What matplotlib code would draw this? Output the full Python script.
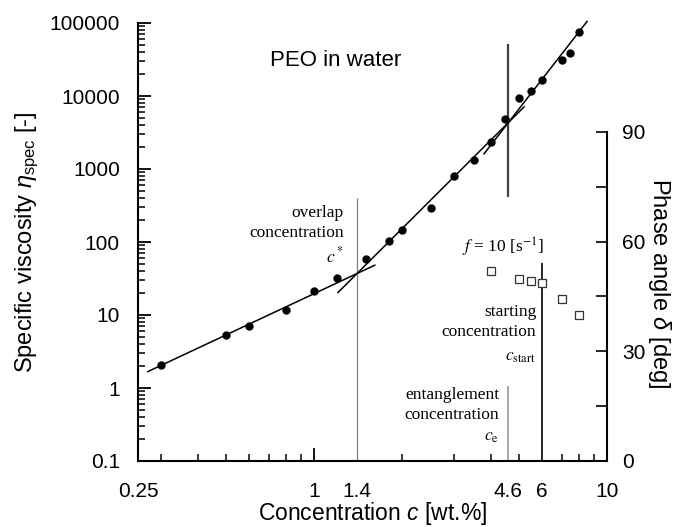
import numpy as np
import matplotlib
matplotlib.use('Agg')
import matplotlib.pyplot as plt
from matplotlib.ticker import FixedLocator, FixedFormatter, NullFormatter

plt.rcParams['font.family'] = ['Liberation Sans', 'DejaVu Sans']
plt.rcParams['mathtext.fontset'] = 'custom'
plt.rcParams['mathtext.rm'] = 'Liberation Sans'
plt.rcParams['mathtext.it'] = 'Liberation Sans:italic'
plt.rcParams['mathtext.bf'] = 'Liberation Sans:bold'

# specific viscosity (filled circles)
conc = [0.3, 0.5, 0.6, 0.8, 1.0, 1.2, 1.5, 1.8, 2.0, 2.5, 3.0, 3.5, 4.0, 4.5,
        5.0, 5.5, 6.0, 7.0, 7.5, 8.0]
eta_spec = [2.07, 5.3, 7.1, 11.7, 21.3, 32, 58, 103, 146, 292, 800, 1330, 2340,
            4840, 9400, 11700, 16600, 31100, 38800, 75300]

# phase angle at f = 10 1/s (open squares)
conc_phase = [4.0, 5.0, 5.5, 6.0, 7.0, 8.0]
phase = [52.0, 49.8, 49.2, 48.7, 44.3, 39.9]

# power law fits: eta = eta_star * (c / c_star)^n
c_star, eta_star, c_e = 1.4, 37.0, 4.6
slopes = [1.88, 4.0, 5.15]
fit_ranges = [(0.27, 1.61), (1.205, 5.21), (3.80, 8.55)]

# marker lines (c, eta_low, eta_high, colour, width)
vert_lines = [(1.4, 0.1, 401, '#808080', 0.9),
              (4.6, 413, 51500, '#404040', 1.6),
              (4.6, 0.1, 1.06, '#909090', 1.1),
              (6.0, 0.1, 51.5, 'black', 1.2)]

xtick_vals = [0.25, 1, 1.4, 4.6, 6, 10]
xtick_labels = ['0.25', '1', '1.4', '4.6', '6', '10']
xminor_vals = [0.3, 0.4, 0.5, 0.6, 0.7, 0.8, 0.9, 2, 3, 4, 5, 7, 8, 9]
ytick_vals = [0.1, 1, 10, 100, 1000, 10000, 100000]
ytick_labels = ['0.1', '1', '10', '100', '1000', '10000', '100000']


def fit_curve(c, n, c0, eta0):
    return eta0 * (c / c0) ** n


fig = plt.figure(figsize=(6.8, 5.27), dpi=100)
ax = fig.add_axes([138 / 680, 1 - 461 / 527, 469 / 680, 438 / 527])
ax.set_xscale('log')
ax.set_yscale('log')
ax.set_xlim(0.25, 10)
ax.set_ylim(0.1, 100000)

# fit lines
eta_e = fit_curve(c_e, slopes[1], c_star, eta_star)
anchors = [(c_star, eta_star), (c_star, eta_star), (c_e, eta_e)]
for n, (c0, c1), (ca, ea) in zip(slopes, fit_ranges, anchors):
    cc = np.array([c0, c1])
    ax.plot(cc, fit_curve(cc, n, ca, ea), color='black', lw=1.1, clip_on=False, zorder=3)

for x, y0, y1, col, lw in vert_lines:
    ax.vlines(x, y0, y1, colors=col, lw=lw, zorder=2)

ax.plot(conc, eta_spec, 'o', color='black', ms=5, zorder=4)

for side in ['top', 'right']:
    ax.spines[side].set_visible(False)
for side in ['left', 'bottom']:
    ax.spines[side].set_linewidth(1.5)

ax.xaxis.set_major_locator(FixedLocator(xtick_vals))
ax.xaxis.set_major_formatter(FixedFormatter(xtick_labels))
ax.xaxis.set_minor_locator(FixedLocator(xminor_vals))
ax.xaxis.set_minor_formatter(NullFormatter())
ax.yaxis.set_major_locator(FixedLocator(ytick_vals))
ax.yaxis.set_major_formatter(FixedFormatter(ytick_labels))
ax.tick_params(which='major', direction='in', length=9.5, width=1.3, labelsize=15)
ax.tick_params(which='minor', direction='in', length=5, width=1.1)
ax.tick_params(axis='x', which='major', pad=15)
ax.tick_params(axis='y', which='major', pad=13)
# only 1 and 10 carry real tick marks on the x axis
for t, v in zip(ax.xaxis.get_major_ticks(), xtick_vals):
    if v not in (1, 10):
        t.tick1line.set_markersize(0)

ax.set_xlabel('Concentration $c$ [wt.%]', fontsize=16.5, va='center')
ax.xaxis.set_label_coords(0.5, -0.121)
ax.set_ylabel(r'Specific viscosity $\eta_{\rm spec}$ [-]', fontsize=17, va='center')
ax.yaxis.set_label_coords(-0.237, 0.5)

# phase angle axis
ax2 = ax.twinx()
ax2.set_ylim(0, 90 * 438 / 329)
ax2.plot(conc_phase, phase, 's', mfc='white', mec='#333333', mew=0.9, ms=5.5, zorder=4)
for side in ['top', 'left', 'bottom']:
    ax2.spines[side].set_visible(False)
ax2.spines['right'].set_bounds(0, 90)
ax2.spines['right'].set_linewidth(1.5)
ax2.yaxis.set_major_locator(FixedLocator([0, 30, 60, 90]))
ax2.yaxis.set_minor_locator(FixedLocator([15, 45, 75]))
ax2.tick_params(which='both', direction='in', length=8, width=1.2, labelsize=15, pad=11)
ax2.set_ylabel(r'Phase angle $\delta$ [deg]', fontsize=17, rotation=270, va='center')
ax2.yaxis.set_label_coords(1.111, 0.406)

# annotations
ax.text(1.18, 31100, 'PEO in water', fontsize=16, ha='center', va='center')
serif = dict(family=['Liberation Serif', 'DejaVu Serif'], fontsize=12.5, ha='right',
             va='center', math_fontfamily='stix')
ax.text(1.26, 249, 'overlap', **serif)
ax.text(1.26, 133, 'concentration', **serif)
ax.text(1.26, 64, r'$c^*$', **serif)
ax.text(5.73, 11.0, 'starting', **serif)
ax.text(5.73, 5.85, 'concentration', **serif)
ax.text(5.73, 2.66, r'$c_{\mathrm{start}}$', **serif)
ax.text(4.28, 0.80, 'entanglement', **serif)
ax.text(4.28, 0.427, 'concentration', **serif)
ax.text(4.28, 0.213, r'$c_{\mathrm{e}}$', **serif)
ax.text(4.41, 85.5, r'$f$ = 10 [s$^{\mathrm{-1}}$]',
        **{**serif, 'ha': 'center'})

fig.savefig('out.png', dpi=100)
